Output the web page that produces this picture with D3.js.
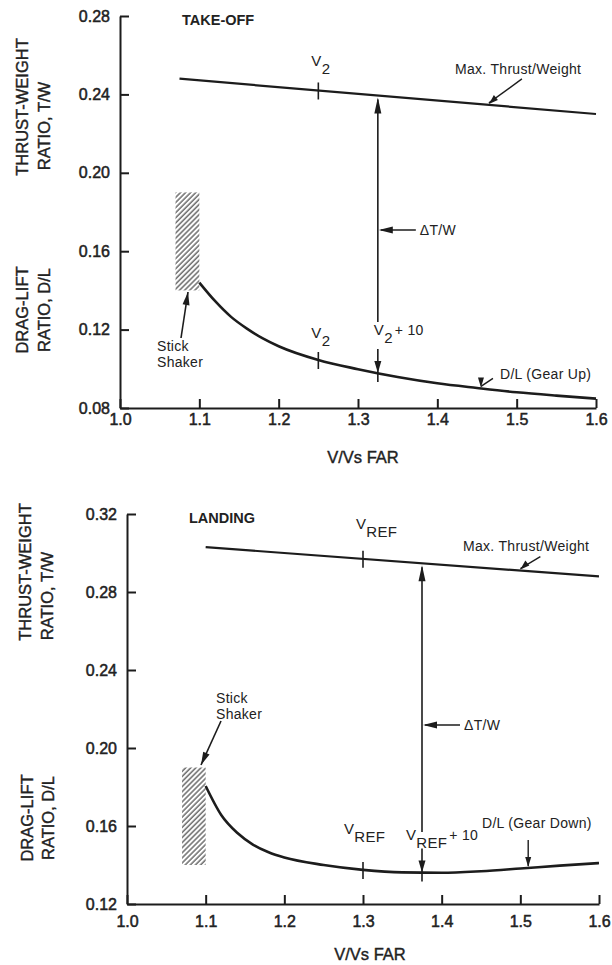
<!DOCTYPE html>
<html>
<head>
<meta charset="utf-8">
<script src="https://cdn.jsdelivr.net/npm/d3@7"></script>
<style>
  body { margin: 0; background: #fff; }
  text { font-family: "Liberation Sans", Arial, sans-serif; fill: #222; }
  .tick text { font-size: 16px; stroke: #222; stroke-width: 0.5px; }
  .ylab { font-size: 16.5px; stroke: #222; stroke-width: 0.4px; }
  .note { font-size: 14px; letter-spacing: 0.3px; }
  .title { font-size: 14.5px; font-weight: bold; }
</style>
</head>
<body>
<svg id="chart" width="612" height="965"></svg>
<script>
// ---- data ----
const speedTicks = [1.0, 1.1, 1.2, 1.3, 1.4, 1.5, 1.6];
const takeoffRatioTicks = [0.08, 0.12, 0.16, 0.20, 0.24, 0.28];
const landingRatioTicks = [0.12, 0.16, 0.20, 0.24, 0.28, 0.32];

// max thrust / weight lines
const takeoffTWSpeed = [1.075, 1.6];
const takeoffTW = [0.248, 0.230];
const landingTWSpeed = [1.10, 1.6];
const landingTW = [0.303, 0.288];

// drag/lift curves
const takeoffDLSpeed = [1.10, 1.12, 1.14, 1.16, 1.18, 1.20, 1.25, 1.30, 1.35, 1.40, 1.45, 1.50, 1.55, 1.60];
const takeoffDL = [0.144, 0.1345, 0.1265, 0.1205, 0.1155, 0.1115, 0.1045, 0.0998, 0.0958, 0.0926, 0.0902, 0.0880, 0.0863, 0.0848];
const landingDLSpeed = [1.10, 1.12, 1.14, 1.16, 1.18, 1.20, 1.25, 1.30, 1.35, 1.40, 1.45, 1.50, 1.55, 1.60];
const landingDL = [0.1805, 0.1655, 0.1565, 0.1505, 0.1465, 0.1438, 0.1400, 0.1375, 0.1362, 0.1360, 0.1368, 0.1382, 0.1397, 0.1410];

// stick shaker band (speed range, ratio range)
const shakerSpeed = [1.07, 1.10];
const shakerRatio = [0.14, 0.19];

// reference speeds
const takeoffRef = [1.25, 1.325];   // V2, V2 + 10
const landingRef = [1.30, 1.375];   // VREF, VREF + 10

const svg = d3.select("#chart");
const ink = "#1c1c1c";

// hatch pattern
svg.append("defs").append("pattern")
    .attr("id", "hatch")
    .attr("patternUnits", "userSpaceOnUse")
    .attr("width", 3.6).attr("height", 3.6)
    .attr("patternTransform", "rotate(45)")
    .append("line")
    .attr("x1", 1).attr("y1", 0).attr("x2", 1).attr("y2", 3.6)
    .attr("stroke", "#555").attr("stroke-width", 1.3);

const arrowHead = (g, x, y, dir, len = 14, w = 4) => {
    // dir: "up", "down", "left"
    let pts;
    if (dir === "up") pts = [[x, y], [x - w, y + len], [x + w, y + len]];
    else if (dir === "down") pts = [[x, y], [x - w, y - len], [x + w, y - len]];
    else pts = [[x, y], [x + len, y - w], [x + len, y + w]];
    g.append("path").attr("d", "M" + pts.join("L") + "Z").attr("fill", ink);
};

const subLabel = (g, x, y, main, sub, extra) => {
    const t = g.append("text").attr("class", "note").attr("x", x).attr("y", y);
    t.append("tspan").attr("font-size", "15px").text(main);
    t.append("tspan").attr("dy", 8).attr("font-size", "15px").text(sub);
    if (extra) t.append("tspan").attr("dy", -8).attr("dx", 2).text(extra);
};

function panel(cfg) {
    const x = d3.scaleLinear().domain([1.0, 1.6]).range([cfg.left, cfg.right]);
    const y = d3.scaleLinear().domain(d3.extent(cfg.yTicks)).range([cfg.bottom, cfg.top]);
    const g = svg.append("g");

    const tw = d3.scaleLinear().domain(cfg.twSpeed).range(cfg.tw);
    const dl = d3.scaleLinear().domain(cfg.dlSpeed).range(cfg.dl);

    // stick shaker band
    g.append("rect")
        .attr("x", x(shakerSpeed[0]))
        .attr("width", x(shakerSpeed[1]) - x(shakerSpeed[0]))
        .attr("y", y(shakerRatio[1]))
        .attr("height", y(shakerRatio[0]) - y(shakerRatio[1]))
        .attr("fill", "url(#hatch)");

    // axes
    const yAxis = g.append("g")
        .attr("transform", "translate(" + cfg.left + ",0)")
        .call(d3.axisLeft(y).tickValues(cfg.yTicks).tickFormat(d3.format(".2f"))
            .tickSizeInner(-9).tickSizeOuter(0).tickPadding(10));
    const xAxis = g.append("g")
        .attr("transform", "translate(0," + cfg.bottom + ")")
        .call(d3.axisBottom(x).tickValues(speedTicks).tickFormat(d3.format(".1f"))
            .tickSizeInner(-9).tickSizeOuter(0).tickPadding(cfg.xPad));
    [yAxis, xAxis].forEach(a => {
        a.select(".domain").attr("stroke", ink).attr("stroke-width", 2);
        a.selectAll(".tick line").attr("stroke", ink).attr("stroke-width", 2);
        a.selectAll(".tick text").attr("font-family", null).attr("font-size", null);
    });
    xAxis.selectAll(".tick text").attr("dy", "0.71em");

    // curves
    g.append("path")
        .datum(cfg.twSpeed.map((s, i) => [s, cfg.tw[i]]))
        .attr("d", d3.line().x(d => x(d[0])).y(d => y(d[1])))
        .attr("fill", "none").attr("stroke", ink).attr("stroke-width", 2.2);
    g.append("path")
        .datum(cfg.dlSpeed.map((s, i) => [s, cfg.dl[i]]))
        .attr("d", d3.line().x(d => x(d[0])).y(d => y(d[1])).curve(d3.curveMonotoneX))
        .attr("fill", "none").attr("stroke", ink).attr("stroke-width", 2.6);

    // reference speed ticks
    const r0 = cfg.ref[0], r1 = cfg.ref[1];
    [[r0, tw(r0)], [r0, dl(r0)], [r1, dl(r1)]].forEach(d => {
        g.append("line")
            .attr("x1", x(d[0])).attr("x2", x(d[0]))
            .attr("y1", y(d[1]) - 8).attr("y2", y(d[1]) + 9)
            .attr("stroke", ink).attr("stroke-width", 1.6);
    });

    // delta T/W arrow
    const ax = x(r1);
    g.append("line")
        .attr("x1", ax).attr("x2", ax)
        .attr("y1", y(tw(r1)) + 4).attr("y2", cfg.arrowBottom)
        .attr("stroke", ink).attr("stroke-width", 1.6);
    arrowHead(g, ax, y(tw(r1)) + 2, "up", 16, 3.5);
    g.append("line")
        .attr("x1", ax + 3).attr("x2", ax + 38)
        .attr("y1", cfg.deltaY).attr("y2", cfg.deltaY)
        .attr("stroke", ink).attr("stroke-width", 1.6);
    arrowHead(g, ax + 1, cfg.deltaY, "left", 14, 3.5);
    g.append("text").attr("class", "note")
        .attr("x", ax + 42).attr("y", cfg.deltaY + 5).text("\u0394T/W");

    // small arrow down onto D/L curve
    g.append("line")
        .attr("x1", ax).attr("x2", ax)
        .attr("y1", y(dl(r1)) - 24).attr("y2", y(dl(r1)) - 8)
        .attr("stroke", ink).attr("stroke-width", 1.6);
    arrowHead(g, ax, y(dl(r1)), "down", 12, 3.5);

    // speed labels
    subLabel(g, x(r0) - 7, y(tw(r0)) - cfg.twLabelOff, "V", cfg.sub);
    subLabel(g, x(r0) - 7 - cfg.lowShift, y(dl(r0)) - cfg.dlLabelOff, "V", cfg.sub);
    subLabel(g, x(r1) - 4 - cfg.lowShift, y(dl(r1)) - cfg.dlLabelOff2, "V", cfg.sub, "+ 10");

    // title
    g.append("text").attr("class", "title")
        .attr("x", cfg.left + 62).attr("y", cfg.top + 9).text(cfg.title);

    // Max thrust label
    const mx = x(cfg.twArrowAt);
    g.append("text").attr("class", "note")
        .attr("x", cfg.twLabelX).attr("y", cfg.twLabelY).text("Max. Thrust/Weight");
    g.append("line")
        .attr("x1", mx + cfg.twArrowDx).attr("y1", y(tw(cfg.twArrowAt)) - cfg.twArrowDy)
        .attr("x2", mx).attr("y2", y(tw(cfg.twArrowAt)) - 2)
        .attr("stroke", ink).attr("stroke-width", 1.4);
    g.append("path")
        .attr("d", d3.line()([[mx, y(tw(cfg.twArrowAt)) - 1], [mx + 9, y(tw(cfg.twArrowAt)) - 5],
            [mx + 5, y(tw(cfg.twArrowAt)) - 10]]))
        .attr("fill", ink);

    // D/L label
    g.append("text").attr("class", "note")
        .attr("x", cfg.dlLabelX).attr("y", cfg.dlLabelY).text(cfg.dlText);
    const dx = x(cfg.dlArrowAt), dy = y(dl(cfg.dlArrowAt));
    g.append("line")
        .attr("x1", dx + cfg.dlArrowDx).attr("y1", dy - cfg.dlArrowDy)
        .attr("x2", dx).attr("y2", dy - 2)
        .attr("stroke", ink).attr("stroke-width", 1.4);
    arrowHead(g, dx, dy - 1, "down", 10, 3);

    // stick shaker label and arrow
    const st = g.append("text").attr("class", "note").attr("x", cfg.shakerX).attr("y", cfg.shakerY);
    st.append("tspan").text("Stick");
    st.append("tspan").attr("x", cfg.shakerX).attr("dy", 16).text("Shaker");
    g.append("line")
        .attr("x1", cfg.shakerArrow[0]).attr("y1", cfg.shakerArrow[1])
        .attr("x2", cfg.shakerArrow[2]).attr("y2", cfg.shakerArrow[3])
        .attr("stroke", ink).attr("stroke-width", 1.6);
    const ang = Math.atan2(cfg.shakerArrow[3] - cfg.shakerArrow[1], cfg.shakerArrow[2] - cfg.shakerArrow[0]);
    const tip = [cfg.shakerArrow[2], cfg.shakerArrow[3]];
    const back = [tip[0] - 13 * Math.cos(ang), tip[1] - 13 * Math.sin(ang)];
    g.append("path")
        .attr("d", "M" + [tip,
            [back[0] + 3.5 * Math.sin(ang), back[1] - 3.5 * Math.cos(ang)],
            [back[0] - 3.5 * Math.sin(ang), back[1] + 3.5 * Math.cos(ang)]].join("L") + "Z")
        .attr("fill", ink);

    // axis titles
    cfg.yLabels.forEach(l => {
        g.append("text").attr("class", "ylab")
            .attr("transform", "translate(" + l[1] + "," + l[2] + ") rotate(-90)")
            .attr("text-anchor", "middle").text(l[0]);
    });
    g.append("text").attr("class", "ylab")
        .attr("x", cfg.xTitle[0]).attr("y", cfg.xTitle[1])
        .attr("text-anchor", "middle").attr("font-size", "17px").text("V/Vs FAR");
}

panel({
    left: 120, right: 596, top: 16, bottom: 408, xPad: 6,
    yTicks: takeoffRatioTicks,
    twSpeed: takeoffTWSpeed, tw: takeoffTW,
    dlSpeed: takeoffDLSpeed, dl: takeoffDL,
    ref: takeoffRef, sub: "2", lowShift: 0,
    twLabelOff: 24, dlLabelOff: 22, dlLabelOff2: 38,
    arrowBottom: 322, deltaY: 230,
    title: "TAKE-OFF",
    twArrowAt: 1.465, twArrowDx: 33, twArrowDy: 26, twLabelX: 455, twLabelY: 74,
    dlText: "D/L (Gear Up)", dlLabelX: 500, dlLabelY: 379,
    dlArrowAt: 1.455, dlArrowDx: 12, dlArrowDy: 10,
    shakerX: 157, shakerY: 351, shakerArrow: [181, 338, 188, 292],
    yLabels: [["THRUST-WEIGHT", 28, 107], ["RATIO, T/W", 50, 126],
              ["DRAG-LIFT", 28, 310], ["RATIO, D/L", 50, 310]],
    xTitle: [363, 463]
});

panel({
    left: 127, right: 599, top: 514, bottom: 904, xPad: 12,
    yTicks: landingRatioTicks,
    twSpeed: landingTWSpeed, tw: landingTW,
    dlSpeed: landingDLSpeed, dl: landingDL,
    ref: landingRef, sub: "REF", lowShift: 12,
    twLabelOff: 30, dlLabelOff: 36, dlLabelOff2: 33,
    arrowBottom: 832, deltaY: 725,
    title: "LANDING",
    twArrowAt: 1.50, twArrowDx: 20, twArrowDy: 14, twLabelX: 463, twLabelY: 551,
    dlText: "D/L (Gear Down)", dlLabelX: 482, dlLabelY: 828,
    dlArrowAt: 1.51, dlArrowDx: 0, dlArrowDy: 28,
    shakerX: 216, shakerY: 703, shakerArrow: [221, 721, 201, 765],
    yLabels: [["THRUST-WEIGHT", 31, 572], ["RATIO, T/W", 53, 596],
              ["DRAG-LIFT", 33, 818], ["RATIO, D/L", 54, 818]],
    xTitle: [370, 960]
});
</script>
</body>
</html>
